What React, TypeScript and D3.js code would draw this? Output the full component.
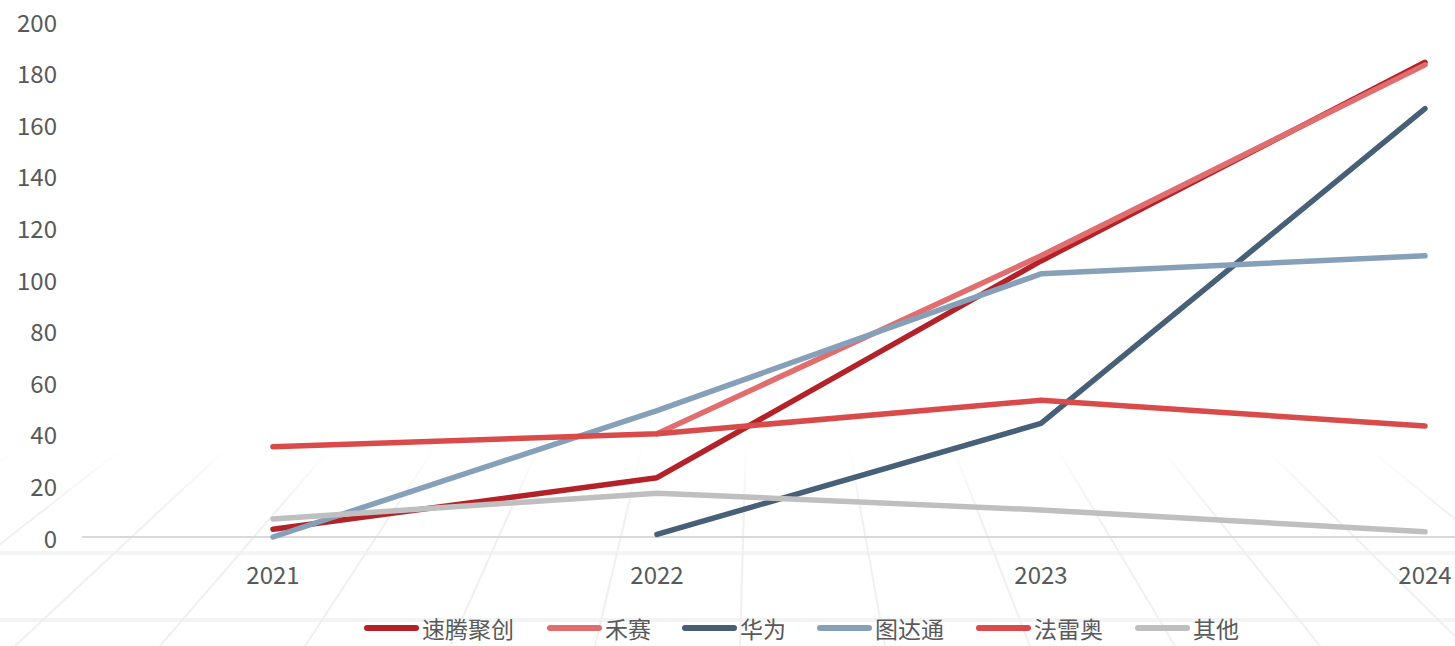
import React from "react";
import * as d3 from "d3";

// Annual counts by supplier
const years = ["2021", "2022", "2023", "2024"];
const seriesNames = ["速腾聚创", "禾赛", "华为", "图达通", "法雷奥", "其他"];
const suteng: (number | null)[] = [3, 23, 107, 184];
const hesai: (number | null)[] = [null, 40, 109, 183];
const huawei: (number | null)[] = [null, 1, 44, 166];
const tudatong: (number | null)[] = [0, 49, 102, 109];
const valeo: (number | null)[] = [35, 40, 53, 43];
const others: (number | null)[] = [7, 17, 10.5, 2];
const yTicks = [0, 20, 40, 60, 80, 100, 120, 140, 160, 180, 200];

const colors = ["#b22228", "#e06e6e", "#485f78", "#86a0b9", "#d94b4b", "#bfbfbf"];
const allValues = [suteng, hesai, huawei, tudatong, valeo, others];

const W = 1455;
const H = 646;
const FONT = "'Noto Sans CJK SC', 'Open Sans', sans-serif";
const TEXT = "#595959";

export default function App() {
  const x = d3.scaleBand<string>().domain(years).range([81, 1617]).paddingInner(0).paddingOuter(0);
  const y = d3.scaleLinear().domain([0, 200]).range([537, 21]);
  const cx = (yr: string) => (x(yr) as number) + x.bandwidth() / 2;

  const line = d3
    .line<{ yr: string; v: number | null }>()
    .defined((d) => d.v !== null)
    .x((d) => cx(d.yr))
    .y((d) => y(d.v as number));

  // faint perspective floor behind the plot
  const vp = { x: 760, y: -50 };
  const floorTop = 445;
  const floorRows = [553, 620];
  const floorCols = d3.range(-16, 17).map((i) => 740 + i * 145);

  // legend layout
  const legendY = 628;
  const lineLen = 55;
  const charW = 24;
  const itemGap = 29;
  let cursor = 364;
  const legendItems = seriesNames.map((name, i) => {
    const start = cursor;
    const textX = start + lineLen + 3;
    cursor = textX + name.length * charW + itemGap;
    return { name, color: colors[i], start, textX };
  });

  return (
    <svg
      width={W}
      height={H}
      style={{ position: "absolute", left: 0, top: 0, background: "#ffffff" }}
      fontFamily={FONT}
    >
      <defs>
        <linearGradient id="floorFade" x1="0" y1="0" x2="0" y2="1">
          <stop offset="0%" stopColor="#ffffff" stopOpacity={1} />
          <stop offset="100%" stopColor="#ffffff" stopOpacity={0} />
        </linearGradient>
        <clipPath id="floorClip">
          <rect x={0} y={floorTop} width={W} height={H - floorTop} />
        </clipPath>
      </defs>

      <g clipPath="url(#floorClip)" stroke="#f0f0f0" fill="none">
        {floorRows.map((r) => (
          <line key={"r" + r} x1={0} x2={W} y1={r} y2={r} strokeWidth={4} strokeOpacity={0.7} />
        ))}
        {floorCols.map((c, i) => {
          const tx = vp.x + (c - vp.x) * ((floorTop - vp.y) / (H - vp.y));
          return <line key={"c" + i} x1={c} y1={H} x2={tx} y2={floorTop} strokeWidth={2} />;
        })}
        <rect x={0} y={floorTop} width={W} height={70} fill="url(#floorFade)" stroke="none" />
      </g>

      {/* y axis labels */}
      {yTicks.map((t) => (
        <text
          key={t}
          x={57}
          y={y(t)}
          textAnchor="end"
          dominantBaseline="central"
          fontSize={24}
          fill={TEXT}
        >
          {t}
        </text>
      ))}

      {/* baseline */}
      <line x1={82} x2={W} y1={y(0)} y2={y(0)} stroke="#d9d9d9" strokeWidth={2} />

      {/* x axis labels */}
      {years.map((yr) => (
        <text
          key={yr}
          x={cx(yr)}
          y={573}
          textAnchor="middle"
          dominantBaseline="central"
          fontSize={24}
          fill={TEXT}
        >
          {yr}
        </text>
      ))}

      {/* series */}
      {allValues.map((vals, i) => (
        <path
          key={seriesNames[i]}
          d={line(years.map((yr, j) => ({ yr, v: vals[j] }))) || ""}
          fill="none"
          stroke={colors[i]}
          strokeWidth={5.5}
          strokeLinecap="round"
          strokeLinejoin="round"
        />
      ))}

      {/* legend */}
      {legendItems.map((it) => (
        <g key={it.name}>
          <line
            x1={it.start + 3}
            x2={it.start + lineLen - 3}
            y1={legendY}
            y2={legendY}
            stroke={it.color}
            strokeWidth={6}
            strokeLinecap="round"
          />
          <text x={it.textX} y={legendY} dominantBaseline="central" fontSize={23} fill={TEXT}>
            {it.name}
          </text>
        </g>
      ))}
    </svg>
  );
}
